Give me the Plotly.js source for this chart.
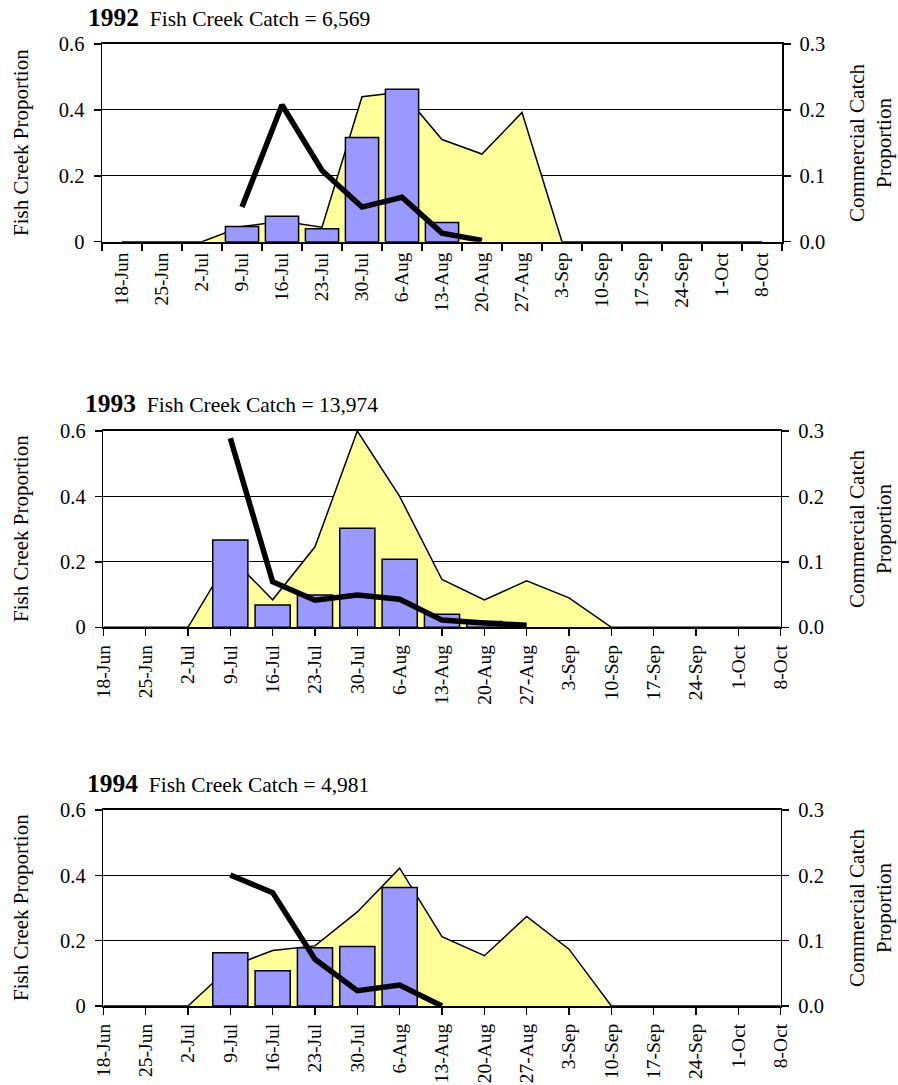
<!DOCTYPE html>
<html>
<head>
<meta charset="utf-8">
<script src="https://cdn.plot.ly/plotly-3.0.1.min.js"></script>
<style>html,body{margin:0;padding:0;background:#fff;}#chart{width:898px;height:1085px;}</style>
</head>
<body>
<div id="chart"></div>
<script>
// Weekly categories
const weeks = ['18-Jun','25-Jun','2-Jul','9-Jul','16-Jul','23-Jul','30-Jul','6-Aug','13-Aug','20-Aug','27-Aug','3-Sep','10-Sep','17-Sep','24-Sep','1-Oct','8-Oct'];

// 1992
const fishBars1992 = [null,null,null,0.046,0.077,0.039,0.316,0.463,0.058,null,null,null,null,null,null,null,null];
const commArea1992 = [0,0,0,0.023,0.031,0.022,0.220,0.227,0.155,0.133,0.196,0,0,0,0,0,0];
const line1992     = [null,null,null,0.105,0.415,0.216,0.105,0.135,0.026,0.004,null,null,null,null,null,null,null];

// 1993
const fishBars1993 = [null,null,null,0.267,0.068,0.099,0.303,0.208,0.040,0.018,null,null,null,null,null,null,null];
const commArea1993 = [0,0,0,0.108,0.042,0.123,0.300,0.200,0.073,0.042,0.071,0.045,0,0,0,0,0];
const line1993     = [null,null,null,0.578,0.139,0.083,0.099,0.086,0.022,0.013,0.006,null,null,null,null,null,null];

// 1994
const fishBars1994 = [null,null,null,0.163,0.108,0.178,0.182,0.363,null,null,null,null,null,null,null,null,null];
const commArea1994 = [0,0,0,0.060,0.085,0.092,0.144,0.211,0.106,0.077,0.137,0.087,0,0,0,0,0];
const line1994     = [null,null,null,0.401,0.347,0.143,0.047,0.064,0.000,null,null,null,null,null,null,null,null];

const years = ['1992','1993','1994'];
const catches = ['6,569','13,974','4,981'];

const FONT = 'Liberation Serif';
const TICK_SIZE = 20.5;
const XTICK_SIZE = 19.5;
const BAR_COLOR = '#9999FF';
const AREA_COLOR = '#FFFF99';

function areaTrace(y, xa, ya){
  return {type:'scatter', mode:'lines', x:weeks, y:y, xaxis:xa, yaxis:ya,
    fill:'tozeroy', fillcolor:AREA_COLOR, line:{color:'#000', width:1.5}, hoverinfo:'skip', showlegend:false};
}
function barTrace(y, xa, ya){
  return {type:'bar', x:weeks, y:y, xaxis:xa, yaxis:ya, width:0.83,
    marker:{color:BAR_COLOR, line:{color:'#000', width:1.5}}, hoverinfo:'skip', showlegend:false};
}
function lineTrace(y, xa, ya){
  return {type:'scatter', mode:'lines', x:weeks, y:y, xaxis:xa, yaxis:ya,
    line:{color:'#000', width:5.5}, hoverinfo:'skip', showlegend:false};
}

const data = [
  areaTrace(commArea1992,'x','y'), barTrace(fishBars1992,'x','y2'), lineTrace(line1992,'x','y2'),
  areaTrace(commArea1993,'x2','y3'), barTrace(fishBars1993,'x2','y4'), lineTrace(line1993,'x2','y4'),
  areaTrace(commArea1994,'x3','y5'), barTrace(fishBars1994,'x3','y6'), lineTrace(line1994,'x3','y6')
];

function xAxis(anchor, boundaries, domain){
  return {domain:domain, anchor:anchor, type:'category', categoryorder:'array', categoryarray:weeks,
    range: boundaries ? [-0.5,16.5] : [0,16], tickson: boundaries ? 'boundaries' : 'labels',
    ticks:'outside', ticklen:7, tickwidth:1.5, tickcolor:'#000', tickangle:-90,
    showline:true, linewidth:2, linecolor:'#000', mirror:true, showgrid:false, zeroline:false,
    tickfont:{family:FONT, size:XTICK_SIZE, color:'#000'}, ticklabelstandoff:1, fixedrange:true};
}
function rightAxis(anchor, domain){
  return {domain:domain, anchor:anchor, side:'right', range:[0,0.3], dtick:0.1, tick0:0, tickformat:'.1f',
    showgrid:true, gridcolor:'#000', gridwidth:1, zeroline:false,
    showline:true, linewidth:1.5, linecolor:'#000', ticks:'outside', ticklen:7, tickwidth:1.5, tickcolor:'#000',
    tickfont:{family:FONT, size:TICK_SIZE, color:'#000'}, ticklabelstandoff:5, fixedrange:true};
}
function leftAxis(anchor, over){
  return {overlaying:over, anchor:anchor, side:'left', range:[0,0.6], dtick:0.2, tick0:0,
    showgrid:false, zeroline:false,
    showline:true, linewidth:1.5, linecolor:'#000', ticks:'outside', ticklen:7, tickwidth:1.5, tickcolor:'#000',
    tickfont:{family:FONT, size:TICK_SIZE, color:'#000'}, ticklabelstandoff:5, fixedrange:true};
}

// pixel helpers for annotation placement (margins l=102, r=116, t=44, b=79)
const px = v => (v-102)/680;
const py = v => (1006-v)/962;

const titleY = [17, 403, 783];
const titleX = [86, 83, 85];
const panelMid = [143, 529, 908];

const annotations = [];
for (let i=0;i<3;i++){
  annotations.push({xref:'paper', yref:'paper', x:px(titleX[i]), y:py(titleY[i]), xanchor:'left', yanchor:'middle', showarrow:false,
    text:'<b><span style="font-size:25.5px">'+years[i]+'</span></b>  Fish Creek Catch = '+catches[i],
    font:{family:FONT, size:21.5, color:'#000'}});
  annotations.push({xref:'paper', yref:'paper', x:px(21), y:py(panelMid[i]), xanchor:'center', yanchor:'middle', showarrow:false,
    textangle:-90, text:'Fish Creek Proportion', font:{family:FONT, size:21, color:'#000'}});
  annotations.push({xref:'paper', yref:'paper', x:px(870), y:py(panelMid[i]), xanchor:'center', yanchor:'middle', showarrow:false,
    textangle:-90, text:'Commercial Catch<br>Proportion', font:{family:FONT, size:21, color:'#000'}});
}

const layout = {
  width:898, height:1085,
  margin:{l:102, r:116, t:44, b:79, pad:0},
  paper_bgcolor:'#fff', plot_bgcolor:'#fff',
  showlegend:false, barmode:'overlay',
  font:{family:FONT, color:'#000'},
  xaxis: xAxis('y', true, [0,1]),
  yaxis: rightAxis('x', [py(241.7), 1]),
  yaxis2: leftAxis('x', 'y'),
  xaxis2: xAxis('y3', false, [px(103.3), px(780.7)]),
  yaxis3: rightAxis('x2', [py(627.3), py(431)]),
  yaxis4: leftAxis('x2', 'y3'),
  xaxis3: xAxis('y5', false, [px(103.3), px(780.7)]),
  yaxis5: rightAxis('x3', [0, py(810)]),
  yaxis6: leftAxis('x3', 'y5'),
  annotations: annotations
};

Plotly.newPlot('chart', data, layout, {staticPlot:true, displayModeBar:false});
</script>
</body>
</html>
